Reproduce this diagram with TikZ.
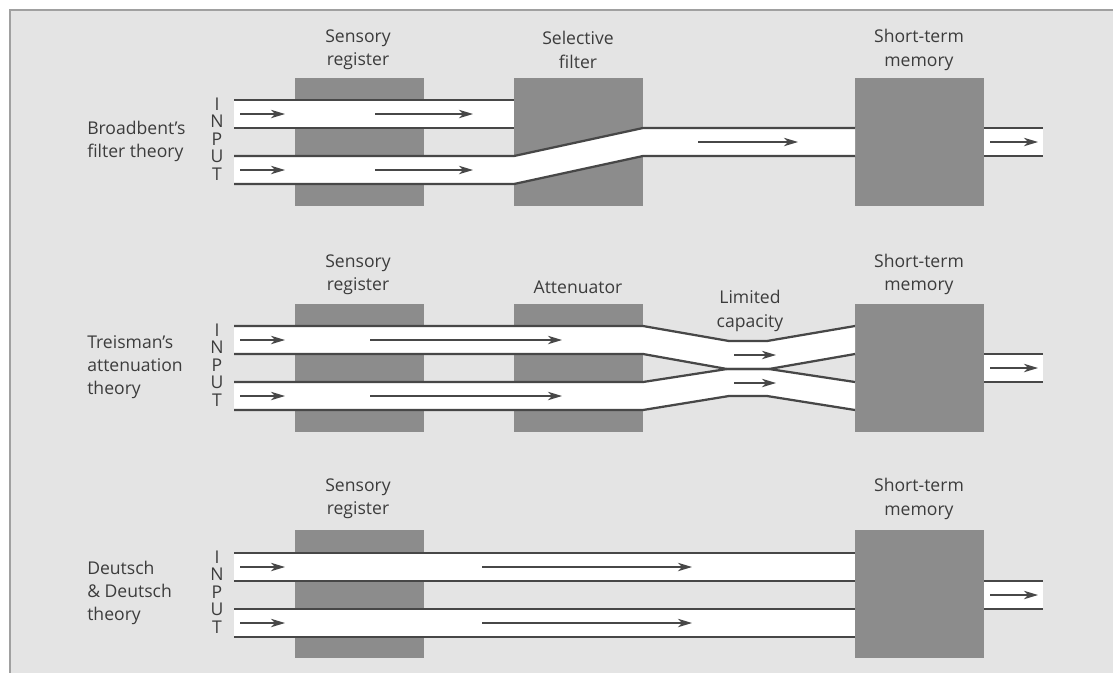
\documentclass[tikz,border=0pt]{standalone}
\usepackage{fontspec}
\setmainfont{Open Sans}
\usetikzlibrary{arrows.meta}
\definecolor{bggray}{HTML}{E4E4E4}
\definecolor{boxgray}{HTML}{8C8C8C}
\definecolor{rimgray}{HTML}{474747}
\definecolor{txtgray}{HTML}{3C3C3C}
\definecolor{framegray}{HTML}{A0A0A0}
\tikzset{
  lbl/.style={text=txtgray, font=\fontsize{12.5}{16.5}\selectfont, align=center, inner sep=0pt},
  rim/.style={draw=rimgray, line width=1.6pt},
  flow/.style={draw=rimgray, line width=0.8pt, -{Stealth[length=10pt,width=6pt,inset=3pt]}},
}
\begin{document}
\begin{tikzpicture}[x=0.025cm, y=-0.025cm]
	\useasboundingbox (0,0) rectangle (1113,673);
	\fill[white] (0,0) rectangle (1113,673);
	\fill[bggray] (10,10) rectangle (1113,673);
	\draw[framegray, line width=1.5pt] (1113,10) -- (10,10) -- (10,673);
	% Broadbent
	\fill[boxgray] (295,78) rectangle (424,206);
	\fill[boxgray] (514,78) rectangle (643,206);
	\fill[boxgray] (855,78) rectangle (984,206);
	\fill[white] (234,100) rectangle (514,128);
	\draw[rim] (234,100) -- (514,100) (234,128) -- (514,128);
	\fill[white] (234,156) -- (514,156) -- (643,128) -- (855,128) -- (855,156) -- (643,156) -- (514,184) -- (234,184) -- cycle;
	\draw[rim] (234,156) -- (514,156) -- (643,128) -- (855,128) (234,184) -- (514,184) -- (643,156) -- (855,156);
	\fill[white] (984,128) rectangle (1043,156);
	\draw[rim] (984,128) -- (1043,128) (984,156) -- (1043,156);
	\node[lbl] (sr1) at (358,50) {Sensory\\register};
	\node[lbl] (sf1) at (578,50) {Selective\\filter};
	\node[lbl] (stm1) at (919,50) {Short-term\\memory};
	\node[lbl, align=left, anchor=west] (th1) at (87,141.5) {Broadbent's\\filter theory};
	\foreach \y in {114,170} {\draw[flow] (240,\y) -- (285,\y); \draw[flow] (375,\y) -- (473,\y);}
	\draw[flow] (698,142) -- (798,142);
	% Treisman
	\fill[boxgray] (295,304) rectangle (424,432);
	\fill[boxgray] (514,304) rectangle (643,432);
	\fill[boxgray] (855,304) rectangle (984,432);
	\fill[white] (234,326) -- (643,326) -- (729,341) -- (767,341) -- (855,326) -- (855,354) -- (769,369) -- (727,369) -- (643,354) -- (234,354) -- cycle;
	\fill[white] (234,382) -- (643,382) -- (727,369) -- (769,369) -- (855,382) -- (855,410) -- (767,396) -- (729,396) -- (643,410) -- (234,410) -- cycle;
	\draw[rim] (234,326) -- (643,326) -- (729,341) -- (767,341) -- (855,326);
	\draw[rim] (234,354) -- (643,354) -- (727,369) -- (769,369) -- (855,354);
	\draw[rim] (234,382) -- (643,382) -- (727,369) -- (769,369) -- (855,382);
	\draw[rim] (234,410) -- (643,410) -- (729,396) -- (767,396) -- (855,410);
	\fill[white] (984,354) rectangle (1043,382);
	\draw[rim] (984,354) -- (1043,354) (984,382) -- (1043,382);
	\node[lbl] (sr2) at (358,274.5) {Sensory\\register};
	\node[lbl] (att2) at (578,287) {Attenuator};
	\node[lbl] (lc2) at (750,311) {Limited\\capacity};
	\node[lbl] (stm2) at (919,274.5) {Short-term\\memory};
	\node[lbl, align=left, anchor=west] (th2) at (87,367) {Treisman's\\attenuation\\theory};
	\foreach \y in {340,396} {\draw[flow] (240,\y) -- (285,\y); \draw[flow] (370,\y) -- (562,\y);}
	\foreach \y in {355,383} {\draw[flow] (734,\y) -- (776,\y);}
	% Deutsch & Deutsch
	\fill[boxgray] (295,530) rectangle (424,658);
	\fill[boxgray] (855,530) rectangle (984,658);
	\fill[white] (234,553) rectangle (855,581);
	\fill[white] (234,609) rectangle (855,637);
	\draw[rim] (234,553) -- (855,553) (234,581) -- (855,581) (234,609) -- (855,609) (234,637) -- (855,637);
	\fill[white] (984,581) rectangle (1043,609);
	\draw[rim] (984,581) -- (1043,581) (984,609) -- (1043,609);
	\node[lbl] (sr3) at (358,499) {Sensory\\register};
	\node[lbl] (stm3) at (919,499) {Short-term\\memory};
	\node[lbl, align=left, anchor=west] (th3) at (87,593) {Deutsch\\\& Deutsch\\theory};
	\foreach \y in {567,623} {\draw[flow] (240,\y) -- (285,\y); \draw[flow] (482,\y) -- (692,\y);}
	% outputs and input letters
	\foreach \y in {142,368,595} {\draw[flow] (990,\y) -- (1038,\y);}
	\foreach \p/\y in {1/104,2/330,3/557}
	  \foreach \l [count=\i] in {I,N,P,U,T}
	    \node[lbl] (in\p-\i) at (217,{\y+17.5*(\i-1)}) {\l};
\end{tikzpicture}
\end{document}
